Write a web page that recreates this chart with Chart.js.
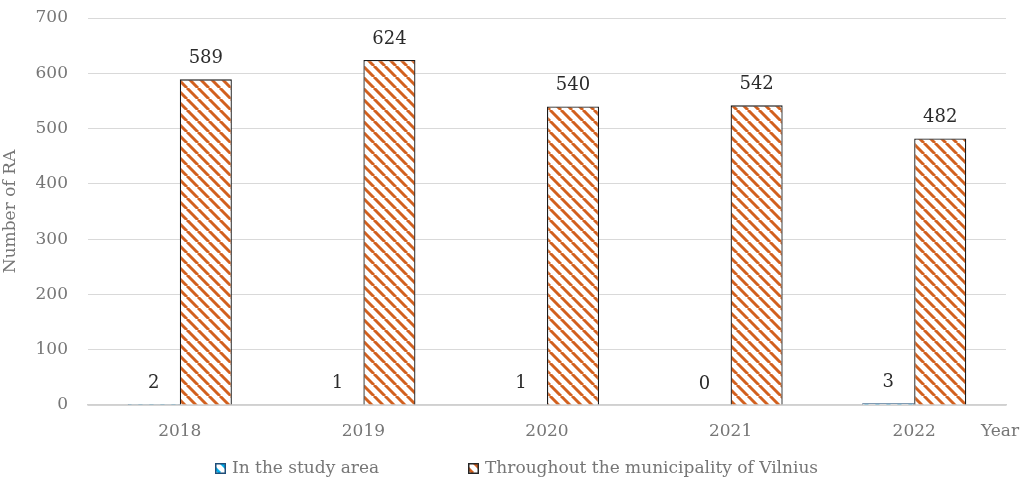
<!DOCTYPE html>
<html>
<head>
<meta charset="utf-8">
<script src="https://cdn.jsdelivr.net/npm/chart.js@4/dist/chart.umd.min.js"></script>
<style>
  html,body{margin:0;padding:0;background:#fff;}
  #wrap{width:1032px;height:479px;}
</style>
</head>
<body>
<div id="wrap"><canvas id="c" width="1032" height="479"></canvas></div>
<script>
const categories = ['2018', '2019', '2020', '2021', '2022'];
const studyArea = [2, 1, 1, 0, 3];
const vilnius = [589, 624, 540, 542, 482];
const seriesNames = ['In the study area', 'Throughout the municipality of Vilnius'];
const yTicks = [0, 100, 200, 300, 400, 500, 600, 700];
const yTitle = 'Number of RA';
const xTitle = 'Year';

const FONT = "'DejaVu Serif', serif";

function hatch(color, size, lw) {
  const c = document.createElement('canvas');
  c.width = size; c.height = size;
  const g = c.getContext('2d');
  g.fillStyle = '#ffffff';
  g.fillRect(0, 0, size, size);
  g.strokeStyle = color;
  g.lineWidth = lw;
  for (const o of [-size, 0, size]) {
    g.beginPath();
    g.moveTo(o, 0);
    g.lineTo(o + size, size);
    g.stroke();
  }
  return g.createPattern(c, 'repeat');
}
const orangeHatch = hatch('#D2601E', 11, 3.0);
const blueHatch = hatch('#00B0F0', 11, 3.0);

const extras = {
  id: 'extras',
  afterDatasetsDraw(chart) {
    const ctx = chart.ctx;
    ctx.save();
    ctx.font = "18px " + FONT;
    ctx.fillStyle = '#2b2b2b';
    ctx.textAlign = 'center';
    ctx.textBaseline = 'middle';
    chart.data.datasets.forEach((ds, di) => {
      const meta = chart.getDatasetMeta(di);
      meta.data.forEach((bar, i) => {
        ctx.fillText(String(ds.data[i]), bar.x, bar.y - 21);
      });
    });
    ctx.restore();
  },
  afterDraw(chart) {
    const ctx = chart.ctx;
    ctx.save();
    ctx.font = "17px " + FONT;
    ctx.fillStyle = '#767676';
    ctx.textAlign = 'left';
    ctx.textBaseline = 'middle';
    ctx.fillText(xTitle, 981, 432);
    const items = [
      {x: 215, pat: blueHatch, border: '#1F4E79', text: seriesNames[0]},
      {x: 468, pat: orangeHatch, border: '#262626', text: seriesNames[1]}
    ];
    items.forEach(it => {
      ctx.fillStyle = it.pat;
      ctx.fillRect(it.x, 463, 11, 11);
      ctx.strokeStyle = it.border;
      ctx.lineWidth = 1.5;
      ctx.strokeRect(it.x + 0.75, 463.75, 9.5, 9.5);
      ctx.fillStyle = '#767676';
      ctx.font = "17px " + FONT;
      ctx.textAlign = 'left';
      ctx.textBaseline = 'middle';
      ctx.fillText(it.text, it.x + 17, 469);
    });
    ctx.restore();
  }
};

new Chart(document.getElementById('c'), {
  type: 'bar',
  data: {
    labels: categories,
    datasets: [
      {
        label: seriesNames[0],
        data: studyArea,
        backgroundColor: blueHatch,
        borderColor: '#1F4E79',
        borderWidth: 1,
        categoryPercentage: 0.567,
        barPercentage: 1.0
      },
      {
        label: seriesNames[1],
        data: vilnius,
        backgroundColor: orangeHatch,
        borderColor: '#1a1a1a',
        borderWidth: 1.3,
        categoryPercentage: 0.567,
        barPercentage: 1.0
      }
    ]
  },
  options: {
    responsive: false,
    animation: false,
    devicePixelRatio: 1,
    layout: { padding: { top: 18, right: 26, bottom: 0, left: 0 } },
    plugins: {
      legend: { display: false },
      tooltip: { enabled: false }
    },
    scales: {
      x: {
        grid: { display: false, drawTicks: false },
        border: { display: true, color: '#d0d0d0', width: 1.5 },
        ticks: { font: { family: FONT, size: 17 }, color: '#767676', padding: 16 },
        afterFit(s) { s.height = 74; s.paddingTop = 0; s.paddingBottom = 0; }
      },
      y: {
        min: 0,
        max: 700,
        afterBuildTicks(s) { s.ticks = yTicks.map(v => ({ value: v })); },
        grid: { color: '#d9d9d9', lineWidth: 1, drawTicks: false },
        border: { display: false },
        ticks: { font: { family: FONT, size: 17 }, color: '#767676', padding: 20 },
        title: {
          display: true,
          text: yTitle,
          font: { family: FONT, size: 17 },
          color: '#767676',
          padding: { top: 0, bottom: 0 }
        },
        afterFit(s) { s.width = 88; s.paddingTop = 0; s.paddingBottom = 0; }
      }
    }
  },
  plugins: [extras]
});
</script>
</body>
</html>
